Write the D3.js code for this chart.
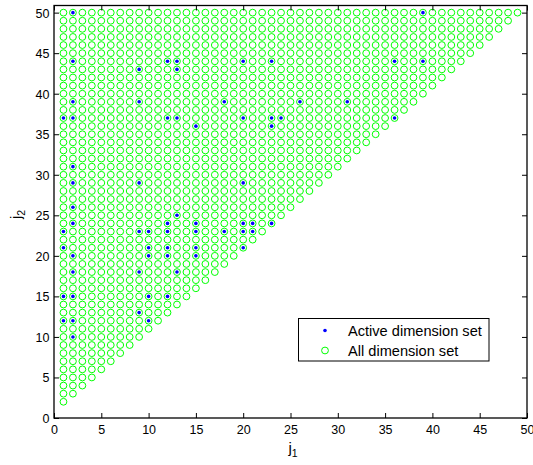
<!DOCTYPE html>
<html>
<head>
<meta charset="utf-8">
<script src="https://cdn.jsdelivr.net/npm/d3@7"></script>
<style>
  html, body { margin: 0; padding: 0; background: #fff; }
  svg { display: block; }
  text { font-family: "Liberation Sans", Arial, Helvetica, sans-serif; fill: #000; }
</style>
</head>
<body>
<svg id="chart" width="533" height="465"></svg>
<script>
// ---- data ----
const dimensions = [1,2,3,4,5,6,7,8,9,10,11,12,13,14,15,16,17,18,19,20,21,22,23,24,25,
                    26,27,28,29,30,31,32,33,34,35,36,37,38,39,40,41,42,43,44,45,46,47,48,49,50];
const activeJ1 = [2,39, 2,12,13,20,23,36,39, 9,13, 2,9,18,26,31, 1,2,12,13,20,23,24,36, 15,23,
                  2, 2,9,20, 2, 13, 2,12,15,20,21,23, 1,9,10,12,15,18,20,21, 1,10,12,15,20,
                  2,10,12,15, 2,9,13, 1,2,10,12, 9, 1,2,10, 2];
const activeJ2 = [50,50, 44,44,44,44,44,44,44, 43,43, 39,39,39,39,39, 37,37,37,37,37,37,37,37, 36,36,
                  31, 29,29,29, 26, 25, 24,24,24,24,24,24, 23,23,23,23,23,23,23,23, 21,21,21,21,21,
                  20,20,20,20, 18,18,18, 15,15,15,15, 13, 12,12,12, 10];
const xTicks = [0,5,10,15,20,25,30,35,40,45,50];
const yTicks = [0,5,10,15,20,25,30,35,40,45,50];
const legendLabels = ["Active dimension set", "All dimension set"];

// all (j1, j2) pairs with j1 < j2
const allPairs = [];
dimensions.forEach(a => dimensions.forEach(b => { if (a < b) allPairs.push({j1: a, j2: b}); }));
const activePairs = activeJ1.map((a, i) => ({j1: a, j2: activeJ2[i]}));

// ---- layout ----
const svg = d3.select("#chart");
const pLeft = 54, pRight = 527, pTop = 5.5, pBottom = 418;
const x = d3.scaleLinear().domain([0, 50]).range([pLeft, pRight]);
const y = d3.scaleLinear().domain([0, 50.88]).range([pBottom, pTop]);

const green = "#00ff00", blue = "#0000ff";

// marks
svg.append("g").selectAll("circle").data(allPairs).join("circle")
  .attr("cx", d => x(d.j1)).attr("cy", d => y(d.j2)).attr("r", 3.4)
  .attr("fill", "none").attr("stroke", green).attr("stroke-width", 1);

svg.append("g").selectAll("circle").data(activePairs).join("circle")
  .attr("cx", d => x(d.j1)).attr("cy", d => y(d.j2)).attr("r", 1.8)
  .attr("fill", blue);

// axes (ticks inward, box)
const tickLen = 5;
const axisFont = "12.5px";
const gx = svg.append("g").attr("transform", `translate(0,${pBottom})`)
  .call(d3.axisBottom(x).tickValues(xTicks).tickSizeInner(-tickLen).tickSizeOuter(0).tickPadding(7));
const gxTop = svg.append("g").attr("transform", `translate(0,${pTop})`)
  .call(d3.axisTop(x).tickValues(xTicks).tickSizeInner(-tickLen).tickSizeOuter(0).tickFormat(""));
const gy = svg.append("g").attr("transform", `translate(${pLeft},0)`)
  .call(d3.axisLeft(y).tickValues(yTicks).tickSizeInner(-tickLen).tickSizeOuter(0).tickPadding(4.5));
const gyR = svg.append("g").attr("transform", `translate(${pRight},0)`)
  .call(d3.axisRight(y).tickValues(yTicks).tickSizeInner(-tickLen).tickSizeOuter(0).tickFormat(""));

[gx, gxTop, gy, gyR].forEach(g => {
  g.select(".domain").remove();
  g.selectAll(".tick line").attr("stroke", "#000").attr("stroke-width", 1);
  g.selectAll(".tick text").attr("font-size", axisFont)
    .attr("font-family", "'Liberation Sans', Arial, Helvetica, sans-serif").attr("fill", "#000");
});
gy.selectAll(".tick text").attr("dy", "0.36em");

svg.append("rect").attr("x", pLeft).attr("y", pTop)
  .attr("width", pRight - pLeft).attr("height", pBottom - pTop)
  .attr("fill", "none").attr("stroke", "#000").attr("stroke-width", 1.3);

// axis labels
const xl = svg.append("text").attr("x", 288.5).attr("y", 452.5).attr("font-size", "15px");
xl.append("tspan").text("j");
xl.append("tspan").attr("font-size", "10.5px").attr("dy", 4).text("1");

const yl = svg.append("text").attr("transform", "translate(21,219) rotate(-90)").attr("font-size", "15px");
yl.append("tspan").text("j");
yl.append("tspan").attr("font-size", "10.5px").attr("dy", 4).text("2");

// legend
const lg = svg.append("g");
lg.append("rect").attr("x", 298.5).attr("y", 318.5).attr("width", 190.5).attr("height", 42.5)
  .attr("fill", "#fff").attr("stroke", "#000").attr("stroke-width", 1);
lg.append("circle").attr("cx", 325).attr("cy", 330.5).attr("r", 1.8).attr("fill", blue);
lg.append("circle").attr("cx", 325).attr("cy", 350.5).attr("r", 3.4)
  .attr("fill", "none").attr("stroke", green).attr("stroke-width", 1);
lg.selectAll("text.lab").data(legendLabels).join("text").attr("class", "lab")
  .attr("x", 348).attr("y", (d, i) => 335.5 + i * 20).attr("font-size", "14.6px").text(d => d);
</script>
</body>
</html>
